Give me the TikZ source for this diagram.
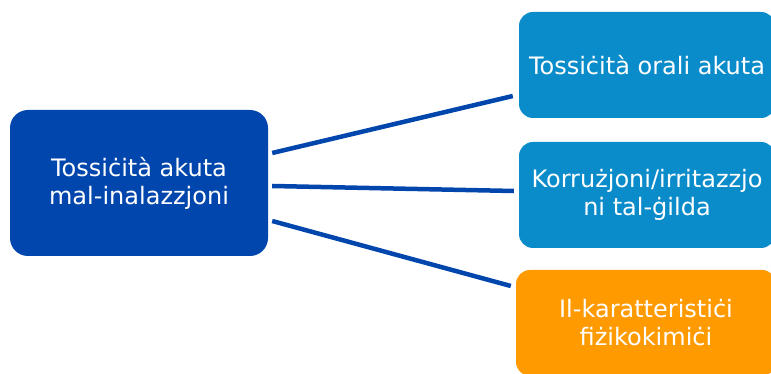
\documentclass[tikz,border=0pt]{standalone}
\usepackage{fontspec}
\setmainfont{DejaVu Sans}
\usetikzlibrary{positioning}
\definecolor{darkblue}{HTML}{0046AD}
\definecolor{lightblue}{HTML}{0A8BCA}
\definecolor{amber}{HTML}{FF9A00}
\begin{document}
\begin{tikzpicture}[x=1pt,y=1pt,
 box/.style={rounded corners=14pt,minimum height=106pt,minimum width=256pt,align=center,text=white,font=\fontsize{24}{28}\selectfont,inner sep=0pt},
 link/.style={draw=darkblue,line width=4.5pt}
]
\useasboundingbox (0,0) rectangle (771,374);
\node[box,fill=darkblue,minimum width=258pt,minimum height=146pt,rounded corners=18pt] (acute) at (139,191) {Tossiċità akuta\\mal-inalazzjoni};
\node[box,fill=lightblue] (oral) at (647,309) {Tossiċità orali akuta};
\node[box,fill=lightblue] (skin) at (647,179) {Korrużjoni/irritazzjo\\ni tal-ġilda};
\node[box,fill=amber,minimum width=260pt] (phys) at (646,51) {Il-karatteristiċi\\fiżikokimiċi};
\draw[link] ([xshift=4pt,yshift=30pt]acute.east)--([xshift=-6pt,yshift=-31pt]oral.west);
\draw[link] ([xshift=4pt,yshift=-3pt]acute.east)--([xshift=-5pt,yshift=4pt]skin.west);
\draw[link] ([xshift=4pt,yshift=-38pt]acute.east)--([xshift=-5pt,yshift=37pt]phys.west);
\end{tikzpicture}
\end{document}
